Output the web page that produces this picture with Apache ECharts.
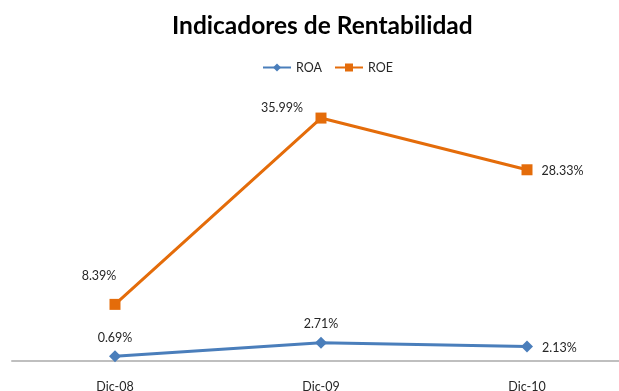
<!DOCTYPE html>
<html>
<head>
<meta charset="utf-8">
<script src="https://cdn.jsdelivr.net/npm/echarts@6/dist/echarts.min.js"></script>
<style>
  html, body { margin: 0; padding: 0; background: #fff; }
  #chart { width: 619px; height: 391px; }
</style>
</head>
<body>
<div id="chart"></div>
<script>
// Profitability indicators by period (percent)
const categories = ['Dic-08', 'Dic-09', 'Dic-10'];
const roa = [0.69, 2.71, 2.13];
const roe = [8.39, 35.99, 28.33];

const FONT = 'Lato, "Open Sans", sans-serif';
const BLUE = '#4A7EBB';
const ORANGE = '#E46C0A';

// label placement per point: [position, offset]
const roaLabelPos = [['top', [0, -1]], ['top', [0, -1]], ['right', [4, 1]]];
const roeLabelPos = [['top', [-16, -11]], ['top', [-39, 7]], ['right', [4, 1]]];

function withLabels(values, places) {
  return values.map((v, i) => ({
    value: v,
    label: { position: places[i][0], offset: places[i][1] }
  }));
}

const labelStyle = {
  show: true,
  formatter: p => p.value.toFixed(2) + '%',
  fontFamily: FONT,
  fontSize: 12.5,
  color: '#262626'
};

const chart = echarts.init(document.getElementById('chart'), null, { renderer: 'canvas' });
chart.setOption({
  animation: false,
  backgroundColor: '#fff',
  title: {
    text: 'Indicadores de Rentabilidad',
    left: 167,
    top: 9,
    textStyle: { fontFamily: FONT, fontWeight: 'bold', fontSize: 24.5, color: '#000' }
  },
  legend: {
    top: 56,
    left: 257,
    itemWidth: 28,
    itemHeight: 10,
    itemGap: 12,
    textStyle: { fontFamily: FONT, fontSize: 12.5, color: '#262626' },
    data: ['ROA', 'ROE']
  },
  // plot band runs slightly past the right edge so the three categories are evenly spread
  grid: { left: 12, width: 618, top: 91, bottom: 30, containLabel: false, outerBoundsMode: 'none' },
  xAxis: {
    type: 'category',
    data: categories,
    boundaryGap: true,
    axisLine: { lineStyle: { color: '#BFBFBF', width: 2 } },
    axisTick: { show: false },
    axisLabel: { fontFamily: FONT, fontSize: 12.5, color: '#262626', margin: 19 }
  },
  yAxis: {
    type: 'value',
    min: 0,
    max: 40,
    show: false,
    splitLine: { show: false }
  },
  series: [
    {
      name: 'ROA',
      type: 'line',
      data: withLabels(roa, roaLabelPos),
      symbol: 'diamond',
      symbolSize: 12,
      lineStyle: { color: BLUE, width: 3 },
      itemStyle: { color: BLUE },
      label: labelStyle
    },
    {
      name: 'ROE',
      type: 'line',
      data: withLabels(roe, roeLabelPos),
      symbol: 'rect',
      symbolSize: 11,
      lineStyle: { color: ORANGE, width: 3 },
      itemStyle: { color: ORANGE },
      label: labelStyle
    }
  ]
});
</script>
</body>
</html>
